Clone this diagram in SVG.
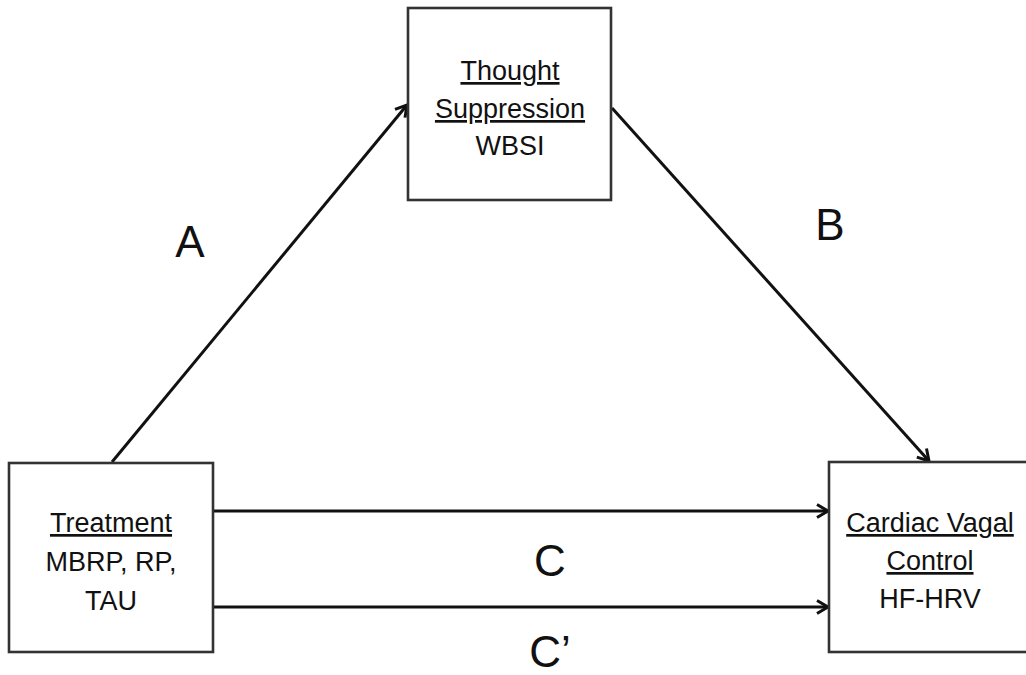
<svg xmlns="http://www.w3.org/2000/svg" width="1026" height="675" viewBox="0 0 1026 675">
<style>
.box{fill:#fff;stroke:#333;stroke-width:2.6}
.t{font-family:"Liberation Sans",Arial,sans-serif;font-size:27px;fill:#111;text-anchor:middle}
.u{text-decoration:underline}
.lbl{font-family:"Liberation Sans",Arial,sans-serif;font-size:44px;fill:#111;text-anchor:middle}
.c{stroke:#111;stroke-width:3;fill:none;marker-end:url(#ah)}
</style>
<defs>
<marker id="ah" markerUnits="userSpaceOnUse" markerWidth="18" markerHeight="18" refX="14" refY="9" orient="auto">
<path d="M3,2.5 L14,9 L3,15.5" fill="none" stroke="#111" stroke-width="3"/>
</marker>
</defs>
<rect width="1026" height="675" fill="#fff"/>
<g id="connectors">
<line class="c" x1="112" y1="462" x2="407" y2="105"/>
<line class="c" x1="612" y1="108" x2="929" y2="461"/>
<line class="c" x1="213" y1="511" x2="828" y2="511"/>
<line class="c" x1="213" y1="607" x2="828" y2="607"/>
</g>
<g id="labels">
<text class="lbl" x="190" y="257">A</text>
<text class="lbl" x="830" y="240">B</text>
<text class="lbl" x="550" y="576">C</text>
<text class="lbl" x="550" y="667">C’</text>
</g>
<g id="node-thought">
<rect class="box" x="408" y="8" width="203" height="192"/>
<text class="t u" x="510" y="80">Thought</text>
<text class="t u" x="510" y="118">Suppression</text>
<text class="t" x="510" y="155">WBSI</text>
</g>
<g id="node-treatment">
<rect class="box" x="9" y="463" width="204" height="189"/>
<text class="t u" x="111" y="532">Treatment</text>
<text class="t" x="111" y="571">MBRP, RP,</text>
<text class="t" x="111" y="610">TAU</text>
</g>
<g id="node-cardiac">
<rect class="box" x="829" y="462" width="230" height="190"/>
<text class="t u" x="930" y="532">Cardiac Vagal</text>
<text class="t u" x="930" y="570">Control</text>
<text class="t" x="930" y="608">HF-HRV</text>
</g>
</svg>
